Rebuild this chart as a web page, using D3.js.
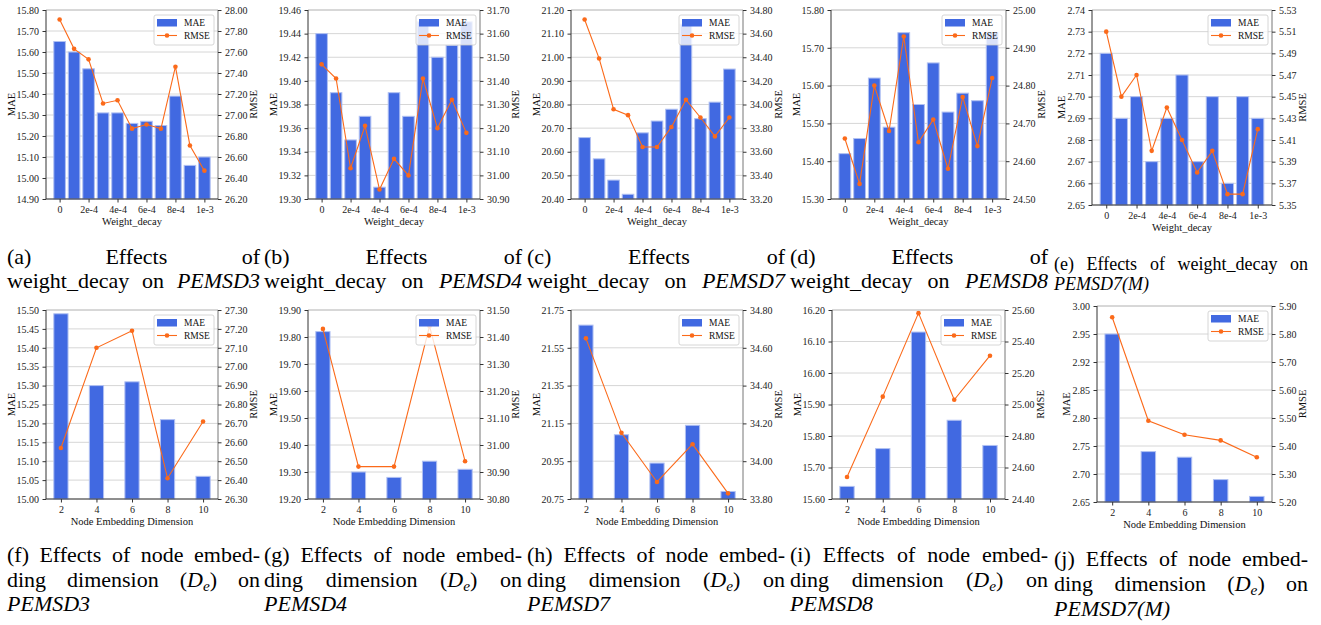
<!DOCTYPE html>
<html><head><meta charset="utf-8">
<script src="https://cdn.jsdelivr.net/npm/d3@7"></script>
<style>body{margin:0;background:#fff} svg{display:block}</style>
</head><body><svg id="c" width="1321" height="625" font-family="Liberation Serif"></svg>
<script>
// ---------------- DATA ----------------
const wdSteps = [0,1,2,3,4,5,6,7,8,9,10];           // weight decay 0 .. 1e-3 in 1e-4 steps
const wdTickIdx = [0,2,4,6,8,10];
const wdTickLabels = ["0","2e-4","4e-4","6e-4","8e-4","1e-3"];
const nedDims = [2,4,6,8,10];

const maeA = [15.65,15.60,15.52,15.31,15.31,15.26,15.27,15.25,15.39,15.06,15.10];
const rmseA = [27.91,27.63,27.53,27.11,27.14,26.87,26.91,26.87,27.46,26.71,26.47];
const maeB = [19.44,19.39,19.35,19.37,19.31,19.39,19.37,19.45,19.42,19.43,19.45];
const rmseB = [31.47,31.41,31.03,31.21,30.94,31.07,31.00,31.41,31.20,31.32,31.18];
const maeC = [20.66,20.57,20.48,20.42,20.68,20.73,20.78,21.14,20.74,20.81,20.95];
const rmseC = [34.72,34.39,33.96,33.91,33.64,33.64,33.81,34.04,33.89,33.73,33.89];
const maeD = [15.42,15.46,15.62,15.49,15.74,15.55,15.66,15.53,15.58,15.56,15.74];
const rmseD = [24.66,24.54,24.80,24.68,24.93,24.65,24.71,24.58,24.77,24.64,24.82];
const maeE = [2.72,2.69,2.70,2.67,2.69,2.71,2.67,2.70,2.66,2.70,2.69];
const rmseE = [5.51,5.45,5.47,5.40,5.44,5.41,5.38,5.40,5.36,5.36,5.42];

const maeF = [15.49,15.30,15.31,15.21,15.06];
const rmseF = [26.57,27.10,27.19,26.41,26.71];
const maeG = [19.82,19.30,19.28,19.34,19.31];
const rmseG = [31.43,30.92,30.92,31.44,30.94];
const maeH = [21.67,21.09,20.94,21.14,20.79];
const rmseH = [34.65,34.15,33.89,34.09,33.83];
const maeI = [15.64,15.76,16.13,15.85,15.77];
const rmseI = [24.54,25.05,25.58,25.03,25.31];
const maeJ = [2.95,2.74,2.73,2.69,2.66];
const rmseJ = [5.86,5.49,5.44,5.42,5.36];

// axis ranges (ticks are evenly spaced between ends)
const maeRangeA=[14.90,15.80], rmseRangeA=[26.20,28.00];
const maeRangeB=[19.30,19.46], rmseRangeB=[30.90,31.70];
const maeRangeC=[20.40,21.20], rmseRangeC=[33.20,34.80];
const maeRangeD=[15.30,15.80], rmseRangeD=[24.50,25.00];
const maeRangeE=[2.65,2.74],   rmseRangeE=[5.35,5.53];
const maeRangeF=[15.00,15.50], rmseRangeF=[26.30,27.30];
const maeRangeG=[19.20,19.90], rmseRangeG=[30.80,31.50];
const maeRangeH=[20.75,21.75], rmseRangeH=[33.80,34.80];
const maeRangeI=[15.60,16.20], rmseRangeI=[24.40,25.60];
const maeRangeJ=[2.65,3.00],   rmseRangeJ=[5.20,5.90];
const maeTickLabelsJ = ["2.65","2.70","2.75","2.80","2.85","2.92","2.95","3.00"];

const datasets = ["PEMSD3","PEMSD4","PEMSD7","PEMSD8","PEMSD7(M)"];

// ---------------- DRAW ----------------
const FONT = "Liberation Serif";
const BLUE = "#4169e1", ORANGE = "#fb6a1a";
const svg = d3.select("#c");

function linspace(a,b,n){ return d3.range(n).map(i => a + (b-a)*i/(n-1)); }

const panels = [
  {kind:"wd", mae:maeA, rmse:rmseA, mr:maeRangeA, rr:rmseRangeA, nt:10, box:[46,218,10,199]},
  {kind:"wd", mae:maeB, rmse:rmseB, mr:maeRangeB, rr:rmseRangeB, nt:9,  box:[308,480,10,199]},
  {kind:"wd", mae:maeC, rmse:rmseC, mr:maeRangeC, rr:rmseRangeC, nt:9,  box:[571,743,10,199]},
  {kind:"wd", mae:maeD, rmse:rmseD, mr:maeRangeD, rr:rmseRangeD, nt:6,  box:[831,1006,10,199]},
  {kind:"wd", mae:maeE, rmse:rmseE, mr:maeRangeE, rr:rmseRangeE, nt:10, box:[1092,1272,10,205]},
  {kind:"ned", mae:maeF, rmse:rmseF, mr:maeRangeF, rr:rmseRangeF, nt:11, box:[46,218,310,499]},
  {kind:"ned", mae:maeG, rmse:rmseG, mr:maeRangeG, rr:rmseRangeG, nt:8,  box:[308,480,310,499]},
  {kind:"ned", mae:maeH, rmse:rmseH, mr:maeRangeH, rr:rmseRangeH, nt:6,  box:[571,743,310,499]},
  {kind:"ned", mae:maeI, rmse:rmseI, mr:maeRangeI, rr:rmseRangeI, nt:7,  box:[832,1005,310,499]},
  {kind:"ned", mae:maeJ, rmse:rmseJ, mr:maeRangeJ, rr:rmseRangeJ, nt:8,  box:[1097,1272,306,502], maeLabels:maeTickLabelsJ}
];

function styleAxis(g){
  g.attr("font-family", FONT).attr("font-size", 10);
  g.select(".domain").remove();
  g.selectAll(".tick line").attr("stroke","#333");
  g.selectAll(".tick text").attr("fill","#222").attr("font-family", FONT).style("font-family", FONT);
}
function txt(sel){ return sel.attr("font-family",FONT).style("font-family",FONT); }

function drawPanel(p){
  const [L,R,T,B] = p.box;
  const g = svg.append("g");
  const isWd = p.kind === "wd";
  const xs = isWd ? wdSteps : nedDims;
  const bw = 0.8;
  const lo = d3.min(xs) - bw/2, hi = d3.max(xs) + bw/2, m = (hi-lo)*0.05;
  const x = d3.scaleLinear().domain([lo-m, hi+m]).range([L,R]);
  const yL = d3.scaleLinear().domain(p.mr).range([B,T]);
  const yR = d3.scaleLinear().domain(p.rr).range([B,T]);
  const tL = linspace(p.mr[0], p.mr[1], p.nt);
  const tR = linspace(p.rr[0], p.rr[1], p.nt);

  // grid
  g.append("g").selectAll("line").data(tL).join("line")
    .attr("x1",L).attr("x2",R).attr("y1",d=>yL(d)).attr("y2",d=>yL(d))
    .attr("stroke","#d6d6d6").attr("stroke-width",1);

  // bars
  g.append("g").selectAll("rect").data(p.mae).join("rect")
    .attr("x",(d,i)=>x(xs[i]-bw/2)).attr("width",x(bw)-x(0))
    .attr("y",d=>yL(d)).attr("height",d=>B-yL(d))
    .attr("fill",BLUE).attr("stroke","#b0c0f2").attr("stroke-width",1);

  // line
  const line = d3.line().x((d,i)=>x(xs[i])).y(d=>yR(d));
  g.append("path").datum(p.rmse).attr("d",line).attr("fill","none")
    .attr("stroke",ORANGE).attr("stroke-width",1.1);
  g.append("g").selectAll("circle").data(p.rmse).join("circle")
    .attr("cx",(d,i)=>x(xs[i])).attr("cy",d=>yR(d)).attr("r",2.3).attr("fill",ORANGE);

  // spines
  g.append("line").attr("x1",L).attr("x2",R).attr("y1",T).attr("y2",T).attr("stroke","#c4c4c4");
  g.append("line").attr("x1",L).attr("x2",L).attr("y1",T).attr("y2",B).attr("stroke","#333");
  g.append("line").attr("x1",R).attr("x2",R).attr("y1",T).attr("y2",B).attr("stroke","#777");
  g.append("line").attr("x1",L).attr("x2",R).attr("y1",B).attr("y2",B).attr("stroke","#333");

  // axes
  const gl = g.append("g").attr("transform",`translate(${L},0)`)
    .call(d3.axisLeft(yL).tickValues(tL).tickSize(3.5).tickPadding(3.5)
      .tickFormat((d,i)=> p.maeLabels ? p.maeLabels[i] : d.toFixed(2)));
  styleAxis(gl);
  const gr = g.append("g").attr("transform",`translate(${R},0)`)
    .call(d3.axisRight(yR).tickValues(tR).tickSize(3.5).tickPadding(3.5)
      .tickFormat(d=>d.toFixed(2)));
  styleAxis(gr);
  const gb = g.append("g").attr("transform",`translate(0,${B})`)
    .call(d3.axisBottom(x).tickValues(isWd ? wdTickIdx : nedDims).tickSize(3.5).tickPadding(3.5)
      .tickFormat((d,i)=> isWd ? wdTickLabels[i] : String(d)));
  styleAxis(gb);

  // label offsets (label width estimated from characters to avoid early measuring)
  const wL = d3.max(tL.map((d,i)=> (p.maeLabels ? p.maeLabels[i] : d.toFixed(2)).length)) * 4.6;
  const wR = d3.max(tR.map(d=> d.toFixed(2).length)) * 4.6;
  txt(g.append("text")).attr("transform",`translate(${L-7-wL-5},${(T+B)/2}) rotate(-90)`)
    .attr("text-anchor","middle").attr("dominant-baseline","central")
    .attr("font-size",10.5).attr("fill","#111").text("MAE");
  txt(g.append("text")).attr("transform",`translate(${R+7+wR+5},${(T+B)/2}) rotate(-90)`)
    .attr("text-anchor","middle").attr("dominant-baseline","central")
    .attr("font-size",10.5).attr("fill","#111").text("RMSE");
  txt(g.append("text")).attr("x",(L+R)/2).attr("y",B+22)
    .attr("text-anchor","middle").attr("dominant-baseline","central")
    .attr("font-size",10.5).attr("fill","#111")
    .text(isWd ? "Weight_decay" : "Node Embedding Dimension");

  // legend
  const lw = 60, lh = 30;
  const lg = g.append("g").attr("transform",`translate(${R-4-lw},${T+5})`);
  lg.append("rect").attr("width",lw).attr("height",lh).attr("rx",2)
    .attr("fill","#fff").attr("fill-opacity",0.8).attr("stroke","#cccccc").attr("stroke-width",0.8);
  lg.append("rect").attr("x",3).attr("y",4).attr("width",20).attr("height",7.5).attr("fill",BLUE);
  lg.append("line").attr("x1",3).attr("x2",23).attr("y1",20.5).attr("y2",20.5).attr("stroke",ORANGE).attr("stroke-width",1.1);
  lg.append("circle").attr("cx",13).attr("cy",20.5).attr("r",2.3).attr("fill",ORANGE);
  txt(lg.append("text")).attr("x",30).attr("y",8).attr("dominant-baseline","central")
    .attr("font-size",9.5).attr("fill","#111").text("MAE");
  txt(lg.append("text")).attr("x",30).attr("y",20.5).attr("dominant-baseline","central")
    .attr("font-size",9.5).attr("fill","#111").text("RMSE");
}

// ---------------- CAPTIONS ----------------
// Times-like advance widths (em) for measuring without layout
const CW = {"(":0.333,")":0.333," ":0.25,"-":0.333,"_":0.5,"a":0.444,"b":0.5,"c":0.444,"d":0.5,"e":0.444,"f":0.333,"g":0.5,"h":0.5,"i":0.278,"j":0.278,"k":0.5,"l":0.278,"m":0.778,"n":0.5,"o":0.5,"p":0.5,"r":0.333,"s":0.389,"t":0.278,"w":0.722,"y":0.5,"E":0.611,"D":0.722,"M":0.833,"P":0.611,"S":0.5};
function estW(spans, size){
  return d3.sum(spans, s => d3.sum(s.t.split(""), ch => (CW[ch] ?? 0.5)) * size * (s.sub ? 0.7 : 1));
}
function makeWord(spans, size){
  const t = txt(svg.append("text")).attr("font-size",size).attr("fill","#000");
  spans.forEach(s=>{
    const ts = t.append("tspan").text(s.t);
    if (s.it) ts.attr("font-style","italic");
    if (s.sub) ts.attr("font-size",size*0.7).attr("dy",size*0.2);
    if (s.unsub) ts.attr("dy",-size*0.2);
  });
  return t;
}
function captionLine(words, x0, x1, y, size, justify){
  const sp = words.map(w => typeof w === "string" ? [{t:w}] : w);
  const nodes = sp.map(s => makeWord(s, size).attr("y",y));
  const ws = sp.map(s => estW(s, size));
  const total = d3.sum(ws);
  const gap = (justify && words.length > 1) ? (x1 - x0 - total)/(words.length-1) : size*0.25;
  let cx = x0;
  nodes.forEach((n,i)=>{ n.attr("x",cx); cx += ws[i] + gap; });
}
const De = [{t:"("},{t:"D",it:true},{t:"e",it:true,sub:true},{t:")",unsub:true}];
const cols = [[7,260],[264,522],[527,785],[790,1048],[1054,1308]];
const topLetters = ["a","b","c","d","e"], botLetters = ["f","g","h","i","j"];

function drawCaptions(){
  topLetters.forEach((l,i)=>{
    const [x0,x1] = cols[i];
    if (i < 4){
      captionLine([`(${l})`,"Effects","of"], x0, x1, 264, 22, true);
      captionLine(["weight_decay","on",[{t:datasets[i],it:true}]], x0, x1, 288, 22, true);
    } else {
      captionLine([`(${l})`,"Effects","of","weight_decay","on"], x0, x1, 270, 18, true);
      captionLine([[{t:datasets[i],it:true}]], x0, x1, 290, 18, false);
    }
  });
  botLetters.forEach((l,i)=>{
    const [x0,x1] = cols[i];
    const dy = i === 4 ? 4 : 0;
    captionLine([`(${l})`,"Effects","of","node","embed-"], x0, x1, 562+dy, 22, true);
    captionLine(["ding","dimension",De,"on"], x0, x1, 587+dy, 22, true);
    captionLine([[{t:datasets[i],it:true}]], x0, x1, 611+dy+(i===4?1:0), 22, false);
  });
}

function drawAll(){
  svg.selectAll("*").remove();
  panels.forEach(drawPanel);
  drawCaptions();
}
drawAll();
</script>
</body></html>
